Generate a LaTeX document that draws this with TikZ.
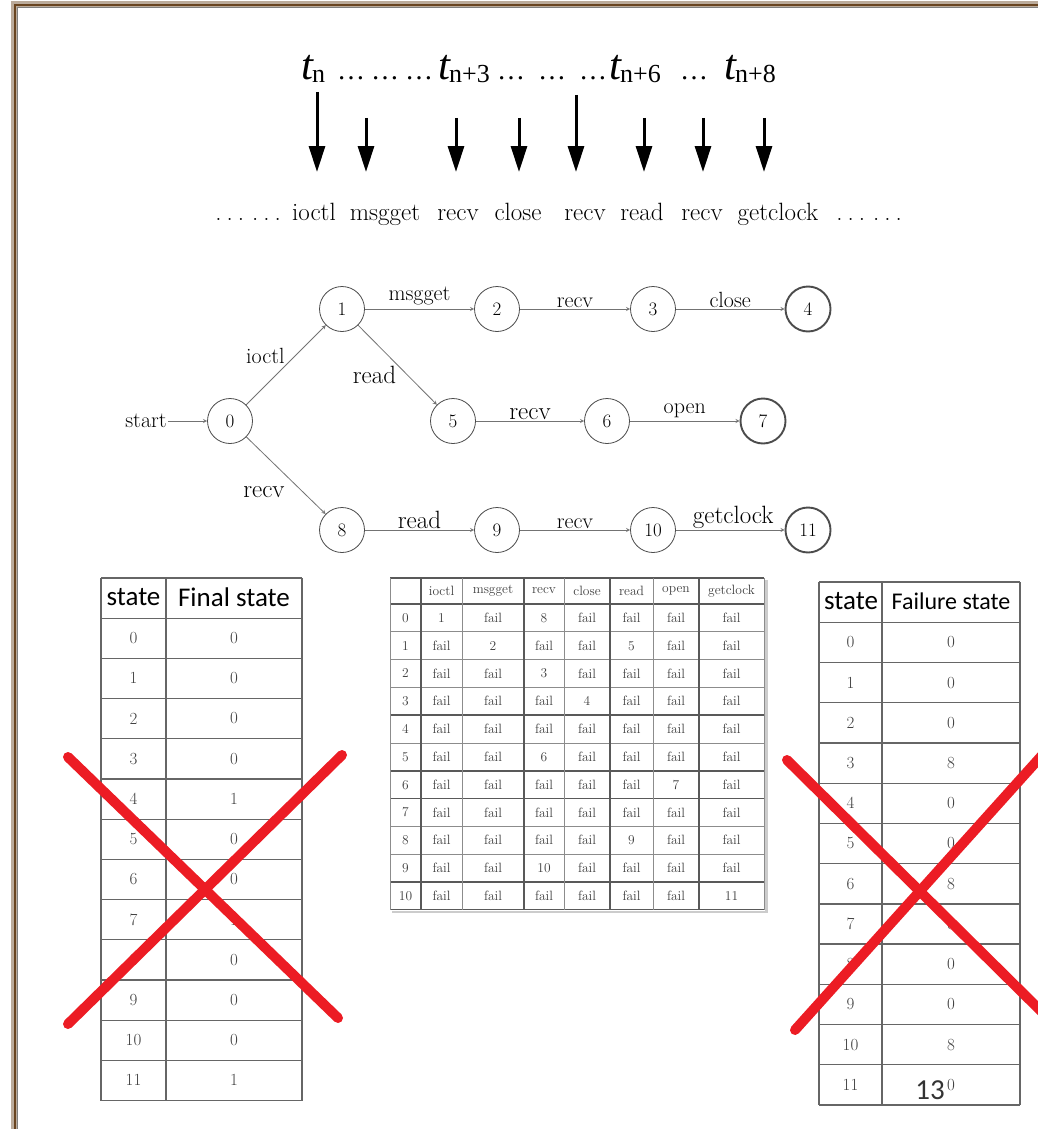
\documentclass[tikz,border=0pt]{standalone}
\usepackage{fontspec}
\newfontfamily\calfont{Carlito}
\newfontfamily\timesfont{Liberation Serif}
\usetikzlibrary{arrows.meta}
\definecolor{framebrown}{RGB}{105,68,32}
\definecolor{crossred}{RGB}{236,28,36}
\newcommand{\tsub}[1]{{\itshape t}\kern-1pt\raisebox{-0.06em}{\fontsize{26}{28}\selectfont #1}}
\newcommand{\grp}{.\kern5pt.\kern5pt.}

\begin{document}
\begin{tikzpicture}[x=1pt,y=-1pt,>=stealth,
  every node/.style={inner sep=1pt},
  stnode/.style={circle,draw=black!70,line width=0.8pt,minimum size=45pt,inner sep=0pt,font=\fontsize{19}{22}\selectfont},
  accnode/.style={stnode,line width=1.9pt},
  lbl/.style={font=\fontsize{22}{24}\selectfont},
  lblbig/.style={font=\fontsize{25}{27}\selectfont},
  trans/.style={->,draw=black!55,line width=0.8pt},
  callarrow/.style={-{Triangle[length=26pt,width=16pt]},line width=3pt},
  tick/.style={anchor=base west,inner sep=0pt,font=\timesfont\fontsize{43}{46}\selectfont},
  tdots/.style={anchor=base west,inner sep=0pt,font=\timesfont\fontsize{28}{30}\selectfont},
  word/.style={anchor=base,font=\fontsize{25}{28}\selectfont},
  tline/.style={draw=black!60,line width=1.3pt},
  mline/.style={draw=black!45,line width=0.8pt},
  mthick/.style={draw=black!65,line width=1.6pt},
  hdr/.style={font=\calfont\fontsize{27}{30}\selectfont},
  cell/.style={font=\fontsize{17}{20}\selectfont,text=black!75},
  mcell/.style={font=\fontsize{13.5}{15}\selectfont,text=black!75},
  cross/.style={draw=crossred,line width=10pt,line cap=round}]
\useasboundingbox (0,0) rectangle (1038,1129);
\fill[white] (0,0) rectangle (1038,1129);
% page frame
\draw[framebrown!45,line width=6pt] (14,1129) -- (14,4) -- (1038,4);
\draw[framebrown,line width=2.5pt] (15,1129) -- (15,5) -- (1038,5);
\draw[black!50,line width=0.8pt] (17.5,1129) -- (17.5,7.5) -- (1038,7.5);

% time line
\node[tick] (tn) at (301,80) {\tsub{n}};
\node[tdots] (d1) at (337,80) {…\kern6pt…\kern6pt…};
\node[tick] (tn3) at (438,80) {\tsub{n+3}};
\node[tdots] (d2) at (497,80) {…\kern13pt…\kern13pt…};
\node[tick] (tn6) at (609,80) {\tsub{n+6}};
\node[tdots] (d3) at (680,80) {…};
\node[tick] (tn8) at (724,80) {\tsub{n+8}};
\foreach \x/\top [count=\i] in {317/92,366/118,456/118,519/118,576/95,644/118,703/118,764/118}{
  \coordinate (s\i) at (\x,\top);
  \coordinate (e\i) at (\x,172);
  \draw[callarrow] (s\i) -- (e\i);
}

% system call sequence
\foreach \w/\x [count=\i] in {\grp\kern8pt\grp/248,ioctl/314,msgget/385,recv/458,close/518,recv/585,read/642,recv/702,getclock/778,\grp\kern8pt\grp/869}
  \node[word] (w\i) at (\x,220) {\w};

% automaton
\node[lbl] (start) at (146,421) {start};
\node[stnode] (q0) at (230,421) {0};
\node[stnode] (q1) at (342,309) {1};
\node[stnode] (q2) at (497,309) {2};
\node[stnode] (q3) at (653,309) {3};
\node[accnode] (q4) at (808,309) {4};
\node[stnode] (q5) at (453,421) {5};
\node[stnode] (q6) at (607,421) {6};
\node[accnode] (q7) at (763,421) {7};
\node[stnode] (q8) at (342,530) {8};
\node[stnode] (q9) at (497,530) {9};
\node[stnode] (q10) at (653,530) {10};
\node[accnode] (q11) at (808,530) {11};
\draw[trans] (start) -- (q0);
\draw[trans] (q0) -- node[lbl,above left]{ioctl} (q1);
\draw[trans] (q1) -- node[lbl,above,yshift=3pt]{msgget} (q2);
\draw[trans] (q2) -- node[lbl,above]{recv} (q3);
\draw[trans] (q3) -- node[lbl,above]{close} (q4);
\draw[trans] (q1) -- node[lblbig,below left]{read} (q5);
\draw[trans] (q5) -- node[lblbig,above]{recv} (q6);
\draw[trans] (q6) -- node[lbl,above,yshift=2pt]{open} (q7);
\draw[trans] (q0) -- node[lblbig,below left,yshift=-10pt]{recv} (q8);
\draw[trans] (q8) -- node[lblbig,above]{read} (q9);
\draw[trans] (q9) -- node[lbl,above]{recv} (q10);
\draw[trans] (q10) -- node[lblbig,above,xshift=3pt]{getclock} (q11);

% final state table
\foreach \i in {0,...,13} \draw[tline] (101,{578+40.2*\i}) -- (302,{578+40.2*\i});
\foreach \x in {101,166,302} \draw[tline] (\x,578) -- (\x,1100.6);
\node[hdr] (lhs) at (133.5,597) {state};
\node[hdr] (lhf) at (234,597) {Final state};
\foreach \v [count=\i from 0] in {0,0,0,0,1,0,0,1,0,0,0,1}{
  \node[cell] (ls\i) at (133.5,{638.1+40.2*\i}) {\i};
  \node[cell] (lv\i) at (234,{638.1+40.2*\i}) {\v};
}

% transition table
\draw[black!20,line width=2.5pt] (392,912) -- (766.5,912) -- (766.5,580);
\foreach \i in {0,...,11} \draw[mline] (390,{604+27.8*\i}) -- (764,{604+27.8*\i});
\foreach \y in {578,604,715.2,770.8,798.6,881.8,909.6} \draw[mthick] (390,\y) -- (764,\y);
\foreach \x in {390,462,564,653,764} \draw[mline] (\x,578) -- (\x,909.6);
\foreach \x in {421,524,610,699} \draw[mthick] (\x,578) -- (\x,909.6);
\foreach \h/\x [count=\c] in {ioctl/441.5,msgget/493,recv/544,close/587,read/631.5,open/676,getclock/731.5}
  \node[mcell] (mh\c) at (\x,591) {\h};
\foreach \r/\row in {0/{1,fail,8,fail,fail,fail,fail},
                     1/{fail,2,fail,fail,5,fail,fail},
                     2/{fail,fail,3,fail,fail,fail,fail},
                     3/{fail,fail,fail,4,fail,fail,fail},
                     4/{fail,fail,fail,fail,fail,fail,fail},
                     5/{fail,fail,6,fail,fail,fail,fail},
                     6/{fail,fail,fail,fail,fail,7,fail},
                     7/{fail,fail,fail,fail,fail,fail,fail},
                     8/{fail,fail,fail,fail,9,fail,fail},
                     9/{fail,fail,10,fail,fail,fail,fail},
                     10/{fail,fail,fail,fail,fail,fail,11}}{
  \node[mcell] (mr\r) at (405.5,{617.9+27.8*\r}) {\r};
  \foreach \v [count=\c] in \row{
    \pgfmathsetmacro{\cx}{{441.5,493,544,587,631.5,676,731.5}[\c-1]}
    \node[mcell] (m\r-\c) at (\cx,{617.9+27.8*\r}) {\v};
  }
}

% failure state table
\foreach \i in {0,...,13} \draw[tline] (819,{582+40.23*\i}) -- (1020,{582+40.23*\i});
\foreach \x in {819,882,1020} \draw[tline] (\x,582) -- (\x,1105);
\node[hdr] (rhs) at (851,601) {state};
\node[hdr,font=\calfont\fontsize{24}{26}\selectfont] (rhf) at (951,601) {Failure state};
\foreach \v [count=\i from 0] in {0,0,0,8,0,0,8,0,0,0,8,0}{
  \node[cell] (rs\i) at (850.5,{642.3+40.23*\i}) {\i};
  \node[cell] (rv\i) at (951,{642.3+40.23*\i}) {\v};
}

% crossed out
\draw[cross] (68,757) -- (338,1018);
\draw[cross] (68,1024) -- (342,755);
\draw[cross] (787,760) -- (1045,1015);
\draw[cross] (795,1030) -- (1045,752);

\node[font=\calfont\fontsize{29}{32}\selectfont,text=black!80] (pagenum) at (930,1090) {13};
\end{tikzpicture}
\end{document}
